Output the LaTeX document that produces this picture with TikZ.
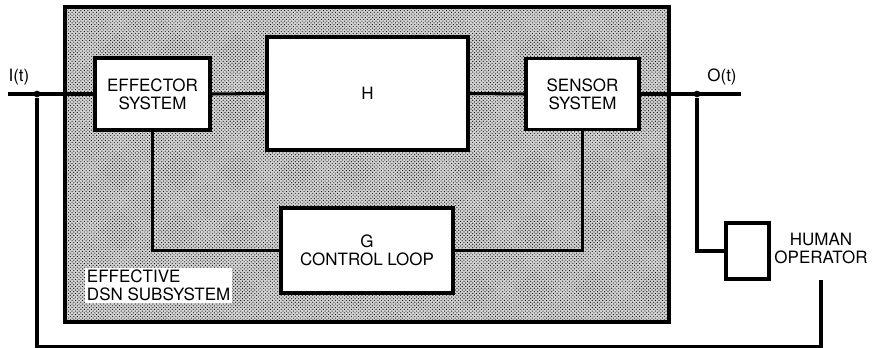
\documentclass[tikz,border=0pt]{standalone}
\usepackage{fontspec}
\setmainfont{TeX Gyre Heros}
\usetikzlibrary{patterns}
\tikzset{
  dsntext/.style={font=\fontsize{14.5}{15.5}\selectfont, text=black},
  blockbox/.style={draw=black, fill=white, line width=2.8pt, align=center,
    font=\fontsize{14.5}{15.5}\selectfont, inner sep=0pt},
  sigline/.style={draw=black, line width=2.6pt},
  junction/.style={circle, fill=black, inner sep=0pt, minimum size=2mm}
}
\begin{document}
\begin{tikzpicture}[x=.03cm,y=.03cm]
  \useasboundingbox (0,0) rectangle (874,348);
  % shaded subsystem area
  \fill[gray!35] (65,341) rectangle (669,26);
  \draw[line width=2.8pt, pattern=crosshatch dots] (65,341) rectangle (669,26);

  \node[blockbox, minimum width=3.45cm, minimum height=2.16cm] (eff) at (152.5,254) {EFFECTOR\\SYSTEM};
  \node[blockbox, minimum width=6.03cm, minimum height=3.39cm] (hbox) at (367.5,254.5) {H};
  \node[blockbox, minimum width=3.39cm, minimum height=2.13cm] (sens) at (582.5,254) {SENSOR\\SYSTEM};
  \node[blockbox, minimum width=5.16cm, minimum height=2.55cm] (gloop) at (367,97.5) {G\\CONTROL LOOP};
  \node[dsntext, fill=white, align=left, anchor=west, inner sep=1.5pt] (dsn) at (85,62.5) {EFFECTIVE\\DSN SUBSYSTEM};

  \node[blockbox, minimum width=1.29cm, minimum height=1.68cm] (human) at (747.5,97) {};
  \node[dsntext, align=center] (oper) at (821,99.5) {HUMAN\\OPERATOR};

  \coordinate (in) at (8,254);
  \coordinate (out) at (741,254);
  \node[junction] (jin) at (37,254) {};
  \node[junction] (jout) at (697,254) {};
  \node[dsntext, anchor=south] at (19,259) {I(t)};
  \node[dsntext, anchor=south] at (722,259) {O(t)};
  \coordinate (opout) at (821,68);
  \coordinate (fb) at (821,1);

  \draw[sigline] (in) -- (eff.west);
  \draw[sigline] (eff.east) -- (hbox.west);
  \draw[sigline] (hbox.east) -- (sens.west);
  \draw[sigline] (sens.east) -- (out);
  \draw[sigline] (eff.south) |- (gloop.west);
  \draw[sigline] (gloop.east) -| (sens.south);
  \draw[sigline] (jout) |- (human.west);
  \draw[sigline] (opout) -- (fb) -| (jin);
\end{tikzpicture}
\end{document}
